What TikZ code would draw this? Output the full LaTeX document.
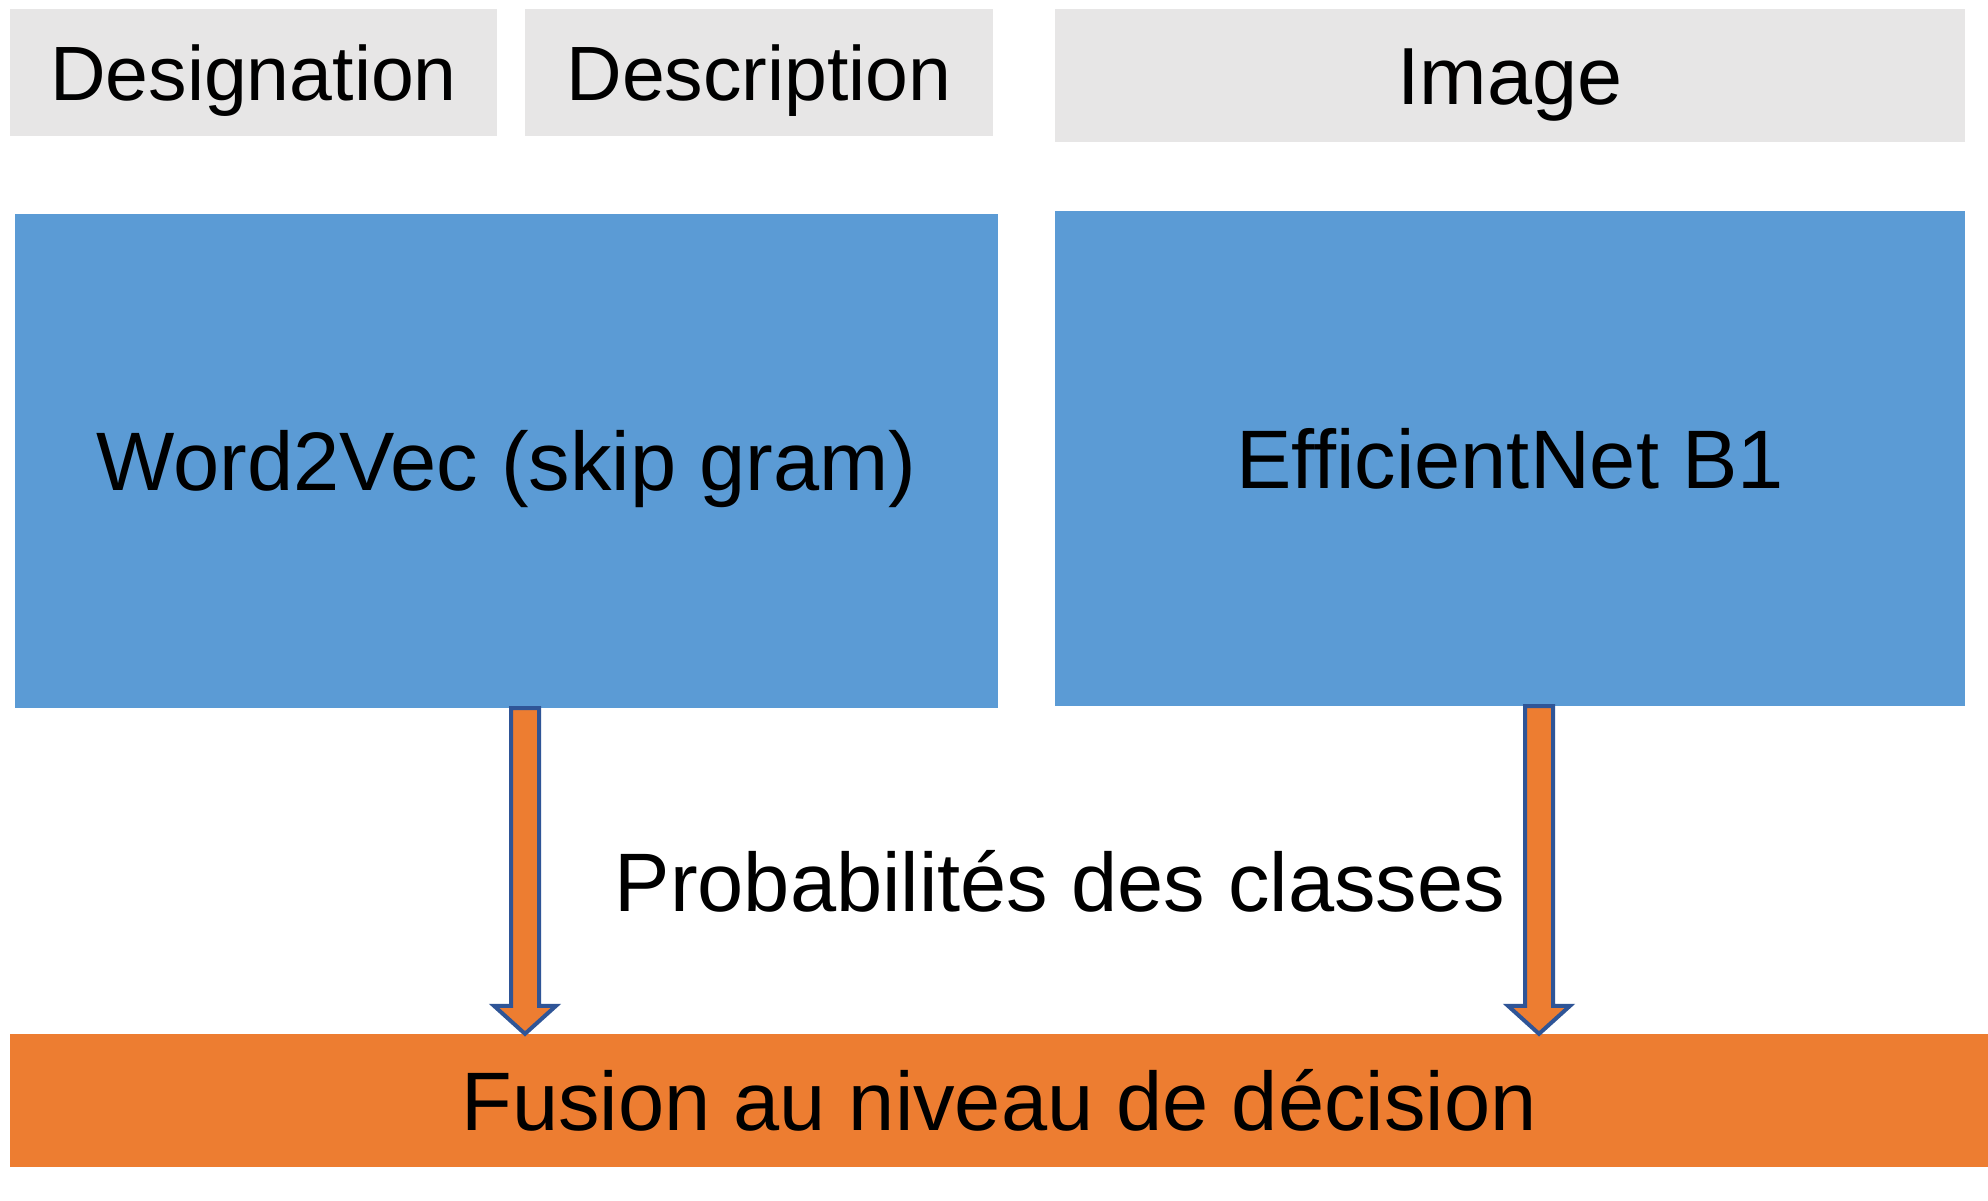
\documentclass[tikz,border=0pt]{standalone}
\usepackage{fontspec}
\setmainfont{Liberation Sans}
\usetikzlibrary{calc}
\definecolor{hdrgray}{HTML}{E7E6E6}
\definecolor{boxblue}{HTML}{5B9BD5}
\definecolor{fusorange}{HTML}{ED7D31}
\definecolor{arrowline}{HTML}{2F5597}
\tikzset{
  hdrbox/.style={fill=hdrgray, draw=none, inner sep=0pt, text height=55pt, text depth=0pt,
    font=\fontsize{77pt}{90pt}\selectfont},
  modelbox/.style={fill=boxblue, draw=none, inner sep=0pt, text height=59.5pt, text depth=0pt,
    font=\fontsize{83pt}{96pt}\selectfont},
  fusionbox/.style={fill=fusorange, draw=none, inner sep=0pt, text height=59.5pt, text depth=0pt,
    font=\fontsize{83pt}{96pt}\selectfont},
  plaintext/.style={inner sep=0pt, font=\fontsize{83pt}{96pt}\selectfont},
  fatarrow/.style={fill=fusorange, draw=arrowline, line width=4pt, line join=miter}
}
\begin{document}
\begin{tikzpicture}[x=1pt,y=-1pt]
\useasboundingbox (0,0) rectangle (1988,1200);
\fill[white] (0,0) rectangle (1988,1200);

\node[hdrbox, minimum width=487pt, minimum height=127pt] (desig) at (253.5,72.5) {Designation};
\node[hdrbox, minimum width=468pt, minimum height=127pt] (descr) at (759,72.5) {Description};
\node[hdrbox, minimum width=910pt, minimum height=133pt, text height=58pt, font=\fontsize{81pt}{94pt}\selectfont] (img) at (1510,75.5) {Image};

\node[modelbox, minimum width=983pt, minimum height=494pt] (w2v) at (506.5,461) {Word2Vec (skip gram)};
\node[modelbox, minimum width=910pt, minimum height=495pt] (eff) at (1510,458.5) {EfficientNet B1};

\node[fusionbox, minimum width=1978pt, minimum height=133pt] (fusion) at (999,1100.5) {Fusion au niveau de décision};

\node[plaintext, anchor=base] (proba) at (1060,911) {Probabilités des classes};

\coordinate (a1s) at (525,0 |- w2v.south);
\coordinate (a1t) at (525,0 |- fusion.north);
\coordinate (a2s) at (1539,0 |- eff.south);
\coordinate (a2t) at (1539,0 |- fusion.north);

\draw[fatarrow] ($(a1s)+(-14,0)$) -- ($(a1t)+(-14,-28)$) -- ($(a1t)+(-31,-28)$) -- (a1t)
  -- ($(a1t)+(31,-28)$) -- ($(a1t)+(14,-28)$) -- ($(a1s)+(14,0)$) -- cycle;
\draw[fatarrow] ($(a2s)+(-14,0)$) -- ($(a2t)+(-14,-28)$) -- ($(a2t)+(-31,-28)$) -- (a2t)
  -- ($(a2t)+(31,-28)$) -- ($(a2t)+(14,-28)$) -- ($(a2s)+(14,0)$) -- cycle;
\end{tikzpicture}
\end{document}
